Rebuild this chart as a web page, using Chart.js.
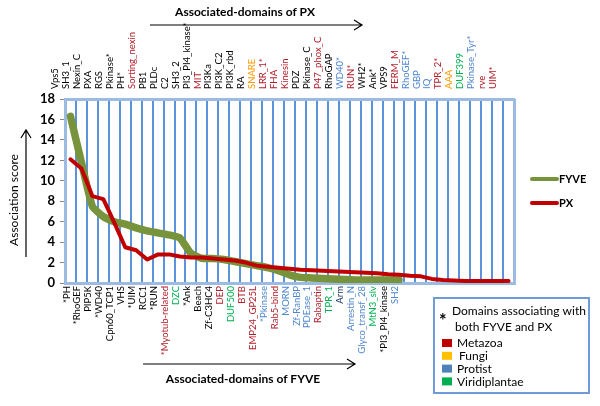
<!DOCTYPE html>
<html>
<head>
<meta charset="utf-8">
<script src="https://cdn.jsdelivr.net/npm/chart.js@4"></script>
<style>
  body { margin: 0; background: #fff; }
  canvas { display: block; }
</style>
</head>
<body>
<canvas id="assocChart" width="600" height="406"></canvas>
<script>
// domains associated with PX (top axis), read left to right
const pxDomains = ['Vps5', 'SH3_1', 'Nexin_C', 'PXA', 'RGS', 'Pkinase*', 'PH*', 'Sorting_nexin', 'PB1', 'PLDc',
    'C2', 'SH3_2', 'PI3_PI4_kinase*', 'MIT', 'PI3Ka', 'PI3K_C2', 'PI3K_rbd', 'RA', 'SNARE', 'LRR_1*',
    'FHA', 'Kinesin', 'PDZ', 'Pkinase_C', 'P47_phox_C', 'RhoGAP', 'WD40*', 'RUN*', 'WH2*', 'Ank*',
    'VPS9', 'FERM_M', 'RhoGEF*', 'GBP', 'IQ', 'TPR_2*', 'AAA', 'DUF399', 'Pkinase_Tyr*', 'rve', 'UIM*'];
// M = Metazoa, F = Fungi, P = Protist, V = Viridiplantae, '' = black
const pxGroups = ['', '', '', '', '', '', '', 'M', '', '',
    '', '', '', 'M', '', '', '', '', 'F', 'M',
    'M', 'M', '', '', 'M', '', 'P', 'M', '', '',
    '', 'M', 'P', 'P', 'P', 'M', 'F', 'V', 'P', 'M', 'M'];

// domains associated with FYVE (bottom axis)
const fyveDomains = ['*PH', '*RhoGEF', 'PIP5K', '*WD40', 'Cpn60_TCP1', 'VHS', '*UIM', 'RCC1', '*RUN', '*Myotub-related',
    'DZC', '*Ank', 'Beach', 'Zf-C3HC4', 'DEP', 'DUF500', 'BTB', 'EMP24_GP25L', '*Pkinase', 'Rab5-bind',
    'MORN', 'Zf-RanBP', 'PDEase_1', 'Rabaptin', 'TPR_1', 'Arm', 'Arrestin_N', 'Glyco_transf_28', 'MtN3_slv', '*PI3_PI4_kinase', 'SH2'];
const fyveGroups = ['', '', '', '', '', '', '', '', '', 'M',
    'V', '', '', '', 'M', 'V', 'M', 'M', 'P', 'M',
    'P', 'P', 'P', 'M', 'V', 'N', 'P', 'P', 'V', '', 'P'];

// association scores
const pxScore = [12.1, 11.2, 8.5, 8.2, 5.9, 3.5, 3.2, 2.3, 2.8, 2.8,
    2.6, 2.5, 2.5, 2.4, 2.3, 2.2, 2.0, 1.7, 1.6, 1.5,
    1.4, 1.3, 1.25, 1.2, 1.15, 1.1, 1.05, 1.0, 0.95, 0.85,
    0.8, 0.7, 0.65, 0.4, 0.3, 0.25, 0.2, 0.2, 0.2, 0.2, 0.2];
const fyveScore = [16.3, 11.8, 7.5, 6.5, 6.0, 5.75, 5.4, 5.1, 4.9, 4.7,
    4.4, 2.9, 2.4, 2.4, 2.3, 2.1, 1.9, 1.7, 1.5, 1.2,
    0.8, 0.55, 0.5, 0.45, 0.4, 0.35, 0.3, 0.3, 0.3, 0.3, 0.3];

const yTicks = [0, 2, 4, 6, 8, 10, 12, 14, 16, 18];

const groupColors = { '': '#000000', M: '#b3202a', F: '#ff9a00', P: '#4f86cf', V: '#00b050', N: '#1f3a66' };
const kingdoms = [['Metazoa', '#c00000'], ['Fungi', '#ffc000'], ['Protist', '#4f81bd'], ['Viridiplantae', '#00b050']];

const FONT = 'Lato, "Liberation Sans", sans-serif';
const bottomLabels = pxDomains.map((d, i) => fyveDomains[i] || '');

// titles, arrows and the two legends drawn around the plot
const decorations = {
    id: 'decorations',
    afterDraw(chart) {
        const ctx = chart.ctx;
        ctx.save();
        ctx.fillStyle = '#000';
        ctx.strokeStyle = '#000';

        const arrowRight = (x1, x2, y) => {
            ctx.lineWidth = 1.2;
            ctx.beginPath();
            ctx.moveTo(x1, y); ctx.lineTo(x2, y);
            ctx.moveTo(x2 - 8, y - 5); ctx.lineTo(x2, y); ctx.lineTo(x2 - 8, y + 5);
            ctx.stroke();
        };

        ctx.font = 'bold 12px ' + FONT;
        ctx.textAlign = 'center';
        ctx.textBaseline = 'middle';
        ctx.fillText('Associated-domains of PX', 245, 12);
        arrowRight(150, 362, 25);
        ctx.fillText('Associated-domains of FYVE', 243, 379);
        arrowRight(143, 355, 364);

        // y title with arrow
        ctx.save();
        ctx.translate(14, 200);
        ctx.rotate(-Math.PI / 2);
        ctx.font = '12px ' + FONT;
        ctx.fillText('Association score', 0, 0);
        ctx.restore();
        ctx.lineWidth = 1.2;
        ctx.beginPath();
        ctx.moveTo(26, 257); ctx.lineTo(26, 130);
        ctx.moveTo(21, 138); ctx.lineTo(26, 130); ctx.lineTo(31, 138);
        ctx.stroke();

        // series legend
        ctx.lineCap = 'round';
        chart.data.datasets.forEach((ds, i) => {
            const y = 179 + i * 24;
            ctx.strokeStyle = ds.borderColor;
            ctx.lineWidth = 4;
            ctx.beginPath();
            ctx.moveTo(532, y); ctx.lineTo(557, y);
            ctx.stroke();
            ctx.font = 'bold 11px ' + FONT;
            ctx.textAlign = 'left';
            ctx.fillText(ds.label, 559, y);
        });

        // kingdom legend box
        ctx.lineCap = 'butt';
        ctx.strokeStyle = '#6f9bd8';
        ctx.lineWidth = 2;
        ctx.strokeRect(434, 298, 155, 95);
        ctx.font = 'bold 18px ' + FONT;
        ctx.fillText('*', 439, 321);
        ctx.font = '12px ' + FONT;
        ctx.fillText('Domains associating with', 452, 311);
        ctx.fillText('both FYVE and PX', 455, 327);
        kingdoms.forEach(([name, col], i) => {
            const y = 343 + i * 12.8;
            ctx.fillStyle = col;
            ctx.fillRect(442, y - 4, 10, 8);
            ctx.fillStyle = '#000';
            ctx.font = '12px ' + FONT;
            ctx.fillText(name, 457 + (i === 1 ? 2 : 0), y + 0.5);
        });
        ctx.restore();
    }
};

const isEdge = c => c.type !== 'tick' || c.index === 0;

new Chart(document.getElementById('assocChart'), {
    type: 'line',
    data: {
        labels: bottomLabels,
        datasets: [{
            label: 'FYVE',
            data: fyveScore,
            borderColor: '#77933c',
            borderWidth: 7.5,
            tension: 0.15,
            borderCapStyle: 'round',
            borderJoinStyle: 'round',
            pointRadius: 0,
            order: 1
        }, {
            label: 'PX',
            data: pxScore,
            borderColor: '#c00000',
            borderWidth: 4,
            tension: 0,
            borderCapStyle: 'round',
            borderJoinStyle: 'round',
            pointRadius: 0,
            order: 0
        }]
    },
    options: {
        responsive: false,
        animation: false,
        layout: { padding: { left: 0, right: 86, top: 0, bottom: 0 } },
        plugins: { legend: { display: false }, tooltip: { enabled: false } },
        scales: {
            x: {
                type: 'category',
                position: 'bottom',
                offset: true,
                afterFit: s => { s.height = 123; },
                grid: {
                    offset: true,
                    drawTicks: false,
                    color: c => isEdge(c) ? '#9bbbe3' : '#5b93da',
                    lineWidth: c => isEdge(c) ? 3 : 2
                },
                border: { color: '#9bbbe3', width: 3 },
                ticks: {
                    autoSkip: false,
                    minRotation: 90,
                    maxRotation: 90,
                    padding: 3,
                    labelOffset: -4,
                    font: { size: 9.5, family: FONT },
                    color: c => groupColors[fyveGroups[c.index] || '']
                }
            },
            x2: {
                type: 'category',
                position: 'top',
                labels: pxDomains,
                offset: true,
                afterFit: s => { s.height = 99; },
                grid: { display: false },
                border: { color: '#9bbbe3', width: 3 },
                ticks: {
                    autoSkip: false,
                    minRotation: 90,
                    maxRotation: 90,
                    padding: 2,
                    labelOffset: -4,
                    font: { size: 9.5, family: FONT },
                    color: c => groupColors[pxGroups[c.index]]
                }
            },
            y: {
                min: 0,
                max: 18,
                afterFit: s => { s.width = 65; },
                afterBuildTicks: s => { s.ticks = yTicks.map(v => ({ value: v })); },
                grid: { drawOnChartArea: false, tickLength: 5, color: '#888' },
                border: { color: '#9bbbe3', width: 3 },
                ticks: {
                    padding: 5,
                    color: '#000',
                    font: { size: 13, weight: 'bold', family: FONT }
                }
            }
        }
    },
    plugins: [decorations]
});
</script>
</body>
</html>
